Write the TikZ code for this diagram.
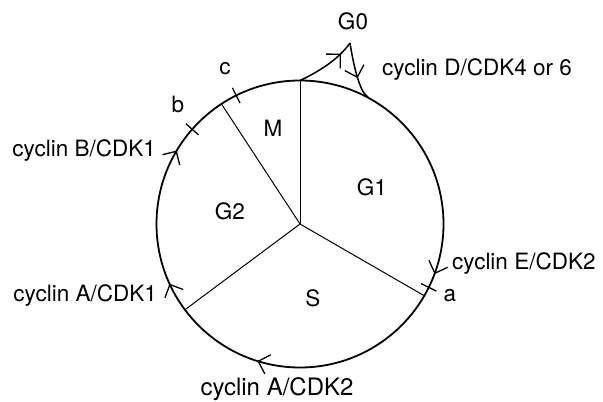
\documentclass[tikz,border=0pt]{standalone}
\usepackage{fontspec}
\setmainfont{TeX Gyre Heros}
\usetikzlibrary{arrows.meta,decorations.markings}
\tikzset{
  lbl/.style={inner sep=0pt, font=\fontsize{22.5}{26}\selectfont},
  rim/.style={line width=1.8pt},
  spoke/.style={line width=1pt},
  tickmark/.style={line width=1.3pt},
  arrowat/.style={postaction={decorate},decoration={markings,
     mark=at position #1 with {\arrow[line width=1.3pt]{Straight Barb[length=10pt,width=20pt]}}}},
}
\begin{document}
\begin{tikzpicture}[x=1pt,y=-1pt]
\useasboundingbox (0,0) rectangle (603,402);
\fill[white] (0,0) rectangle (603,402);
\coordinate (C) at (300,224);
\def\R{143.5}
% spokes
\draw[spoke] (C) -- ++(270:\R) coordinate (top);
\draw[spoke] (C) -- ++(236.8:\R) coordinate (sMG);
\draw[spoke] (C) -- ++(143.3:\R) coordinate (sGS);
\draw[spoke] (C) -- ++(30:\R) coordinate (sSG);
% rim, clockwise on screen from top
\draw[rim, postaction={decorate}, decoration={markings,
   mark=at position 0.3067 with {\arrow[line width=1.3pt]{Straight Barb[length=10pt,width=20pt]}},
   mark=at position 0.548 with {\arrow[line width=1.3pt]{Straight Barb[length=10pt,width=20pt]}},
   mark=at position 0.6817 with {\arrow[line width=1.3pt]{Straight Barb[length=10pt,width=20pt]}},
   mark=at position 0.8356 with {\arrow[line width=1.3pt]{Straight Barb[length=10pt,width=20pt]}}}]
   (top) arc[start angle=-90, end angle=270, radius=\R];
% ticks
\draw[tickmark] (C) ++(243.6:\R-8.5) coordinate (tc1) -- ++(243.6:17);
\draw[tickmark] (C) ++(221.3:\R-8.5) coordinate (tb1) -- ++(221.3:17);
\draw[tickmark] (C) ++(26.2:\R-8.5) coordinate (ta1) -- ++(26.2:17);
% G0 loop
\coordinate (cusp) at (350,43);
\coordinate (back) at (368,97);
\draw[line width=1.5pt, arrowat=0.78] (top) .. controls (318,72) and (338,60) .. (cusp);
\draw[line width=1.5pt, arrowat=0.62] (cusp) .. controls (353,62) and (359,92) .. (back);
% labels
\node[lbl] (g0) at (353,21) {G0};
\node[lbl] (cd) at (477,70) {cyclin D/CDK4 or 6};
\node[lbl] (lc) at (225,69) {c};
\node[lbl] (lb) at (178,104) {b};
\node[lbl] (lm) at (273,128) {M};
\node[lbl, anchor=east] (cb) at (156,151) {cyclin B/CDK1};
\node[lbl] (g1) at (372,187) {G1};
\node[lbl] (g2) at (230,211) {G2};
\node[lbl, anchor=west] (ce) at (452,264) {cyclin E/CDK2};
\node[lbl] (la) at (450,296) {a};
\node[lbl, anchor=east] (ca1) at (157,296) {cyclin A/CDK1};
\node[lbl] (ls) at (313,298) {S};
\node[lbl, font=\fontsize{24}{28}\selectfont] (ca2) at (277,389) {cyclin A/CDK2};
\end{tikzpicture}
\end{document}
